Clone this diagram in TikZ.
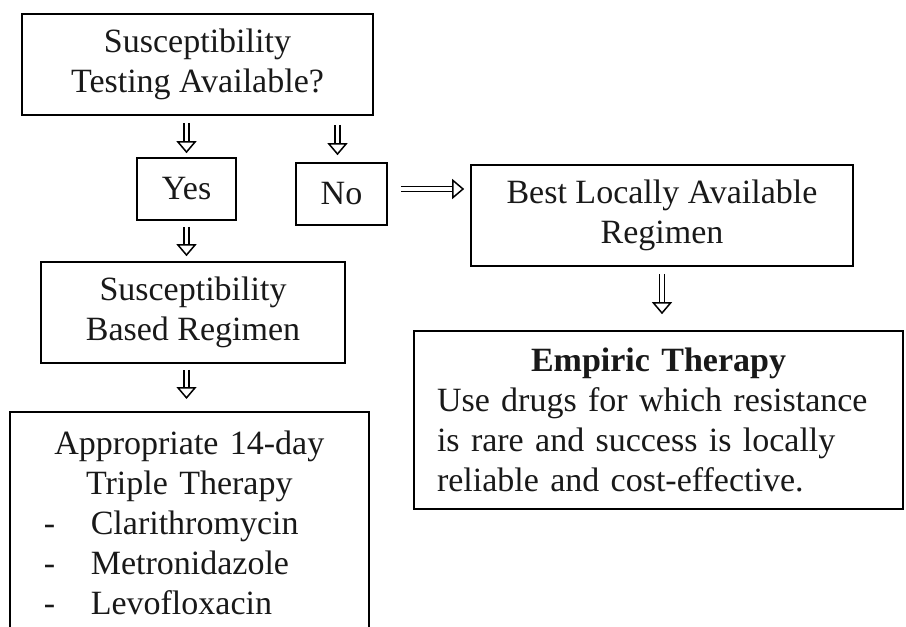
\documentclass[tikz,border=0pt]{standalone}
\usepackage{fontspec}
\setmainfont{Liberation Serif}
\usetikzlibrary{arrows.meta}

\begin{document}
\begin{tikzpicture}[
  x=1pt, y=-1pt,
  box/.style={rectangle, draw, line width=1.6pt, inner sep=0pt, align=center,
    font=\fontsize{34}{40}\selectfont},
  flow/.style={double, double distance=3.6pt, line width=1.5pt,
    -{Triangle[open, length=12pt, width=20pt, line width=1.5pt, fill=white]}},
  every node/.append style={text=black!90}
]
  \clip (0,0) rectangle (906,627);
  \fill[white] (0,0) rectangle (906,627);

  % Question.
  \node[box, minimum width=351pt, minimum height=101pt] (q) at (197.5,64.5)
    {Susceptibility\\Testing Available?};

  % Answers.
  \node[box, minimum width=99pt, minimum height=62pt] (yes) at (186.5,189) {Yes};
  \node[box, minimum width=91pt, minimum height=62pt] (no) at (341.5,194) {No};
  \draw[flow, shorten <=7pt, shorten >=4pt] (q.south -| yes.north) -- (yes.north);
  \draw[flow, shorten <=9pt, shorten >=7pt] ([xshift=-4pt]q.south -| no.north) -- ([xshift=-4pt]no.north);

  % Testing available.
  \node[box, minimum width=304pt, minimum height=101pt] (based) at (193,312.5)
    {Susceptibility\\Based Regimen};
  \node[box, anchor=north west, text width=291pt, inner xsep=34pt, inner ysep=19pt,
    align=left] (triple) at (9,411)
    {\makebox[\linewidth]{Appropriate 14-day}\\
     \makebox[\linewidth]{Triple Therapy}\\
     \makebox[47pt][l]{-}Clarithromycin\\
     \makebox[47pt][l]{-}Metronidazole\\
     \makebox[47pt][l]{-}Levofloxacin};
  \draw[flow, shorten <=6pt, shorten >=5pt] (yes.south) -- (yes.south |- based.north);
  \draw[flow, shorten <=6pt, shorten >=12pt] (based.south -| yes.south) -- (yes.south |- triple.north);

  % No testing.
  \node[box, minimum width=382pt, minimum height=101pt] (best) at (662,215.5)
    {Best Locally Available\\Regimen};
  \node[box, text width=443pt, inner xsep=23pt, minimum height=178pt, align=left]
    (empiric) at (658.5,420)
    {\makebox[\linewidth]{\bfseries Empiric Therapy}\\
     Use drugs for which resistance\\
     is rare and success is locally\\
     reliable and cost-effective.};
  \draw[flow, shorten <=13pt, shorten >=6pt] ([yshift=5pt]no.east) -- ([yshift=5pt]no.east -| best.west);
  \draw[flow, shorten <=7pt, shorten >=16pt] (best.south) -- (empiric.north -| best.south);
\end{tikzpicture}
\end{document}
